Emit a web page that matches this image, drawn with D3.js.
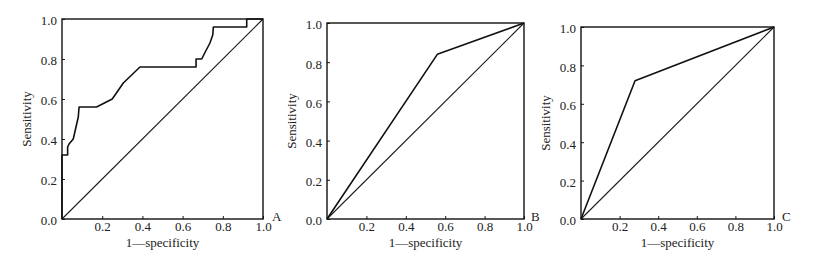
<!DOCTYPE html>
<html>
<head>
<meta charset="utf-8">
<script src="https://cdn.jsdelivr.net/npm/d3@7"></script>
<style>
  body { margin: 0; background: #fff; }
  svg text { font-family: "Liberation Serif", "Times New Roman", Times, serif !important; fill: #222; }
</style>
</head>
<body>
<div id="chart"></div>
<script>
// ROC curves: [1-specificity, sensitivity]
let rocA = [[0,0],[0,0.32],[0.028,0.32],[0.028,0.36],[0.035,0.375],[0.056,0.40],[0.081,0.51],
            [0.085,0.56],[0.172,0.56],[0.25,0.60],[0.305,0.68],[0.388,0.76],[0.667,0.76],
            [0.667,0.80],[0.695,0.80],[0.71,0.83],[0.736,0.88],[0.75,0.92],[0.753,0.96],
            [0.919,0.96],[0.919,1.0],[1,1]];
let rocB = [[0,0],[0.56,0.84],[1,1]];
let rocC = [[0,0],[0.28,0.72],[1,1]];
let diagonal = [[0,0],[1,1]];

let panelNames = ["A", "B", "C"];
let xTicks = [0.2, 0.4, 0.6, 0.8, 1.0];
let yTicks = [0.0, 0.2, 0.4, 0.6, 0.8, 1.0];
let xTitle = "1\u2014specificity";
let yTitle = "Sensitivity";

let curves = [rocA, rocB, rocC];
// plot boxes of the three panels [left, right, top, bottom]
let boxes = [[62, 263, 19, 219], [327, 524, 23, 219], [581, 774, 27, 219]];
let nameOffset = [9, 7, 8];
let serif = "'Liberation Serif', 'Times New Roman', Times, serif";

let svg = d3.select("#chart").append("svg")
    .attr("width", 814)
    .attr("height", 263)
    .attr("font-family", serif)
    .style("background", "#fff");

for (let i = 0; i < 3; i++) {
    let b = boxes[i];
    let x = d3.scaleLinear().domain([0, 1]).range([b[0], b[1]]);
    let y = d3.scaleLinear().domain([0, 1]).range([b[3], b[2]]);
    let g = svg.append("g");

    let xAxis = d3.axisBottom(x).tickValues(xTicks).tickFormat(d3.format(".1f"))
        .tickSizeInner(-3).tickSizeOuter(0).tickPadding(3);
    let yAxis = d3.axisLeft(y).tickValues(yTicks).tickFormat(d3.format(".1f"))
        .tickSizeInner(-3).tickSizeOuter(0).tickPadding(5);

    let gx = g.append("g").attr("transform", "translate(0," + b[3] + ")").call(xAxis);
    let gy = g.append("g").attr("transform", "translate(" + b[0] + ",0)").call(yAxis);
    [gx, gy].forEach(function(a) {
        a.attr("font-family", serif).attr("font-size", 13);
        a.select(".domain").remove();
        a.selectAll("line").attr("stroke", "#1a1a1a").attr("stroke-width", 1);
        a.selectAll("text").attr("fill", "#222");
    });
    gy.selectAll("text").attr("dy", "0.45em");

    let line = d3.line().x(function(d) { return x(d[0]); }).y(function(d) { return y(d[1]); });

    g.append("path").datum(diagonal)
        .attr("d", line)
        .attr("fill", "none").attr("stroke", "#1a1a1a").attr("stroke-width", 1.1);

    g.append("path").datum(curves[i])
        .attr("d", line)
        .attr("fill", "none").attr("stroke", "#111").attr("stroke-width", 1.6)
        .attr("stroke-linejoin", "round");

    // frame
    g.append("rect")
        .attr("x", x(0)).attr("y", y(1))
        .attr("width", x(1) - x(0)).attr("height", y(0) - y(1))
        .attr("fill", "none").attr("stroke", "#111").attr("stroke-width", 1.4);

    g.append("text")
        .attr("x", (x(0) + x(1)) / 2)
        .attr("y", 247)
        .attr("text-anchor", "middle")
        .style("font-size", "13px")
        .text(xTitle);

    g.append("text")
        .attr("transform", "translate(" + (b[0] - 31) + "," + ((b[2] + b[3]) / 2) + ") rotate(-90)")
        .attr("text-anchor", "middle")
        .style("font-size", "13px")
        .text(yTitle);

    g.append("text")
        .attr("x", x(1) + nameOffset[i])
        .attr("y", y(0) + 2)
        .style("font-size", "13px")
        .text(panelNames[i]);
}
</script>
</body>
</html>
